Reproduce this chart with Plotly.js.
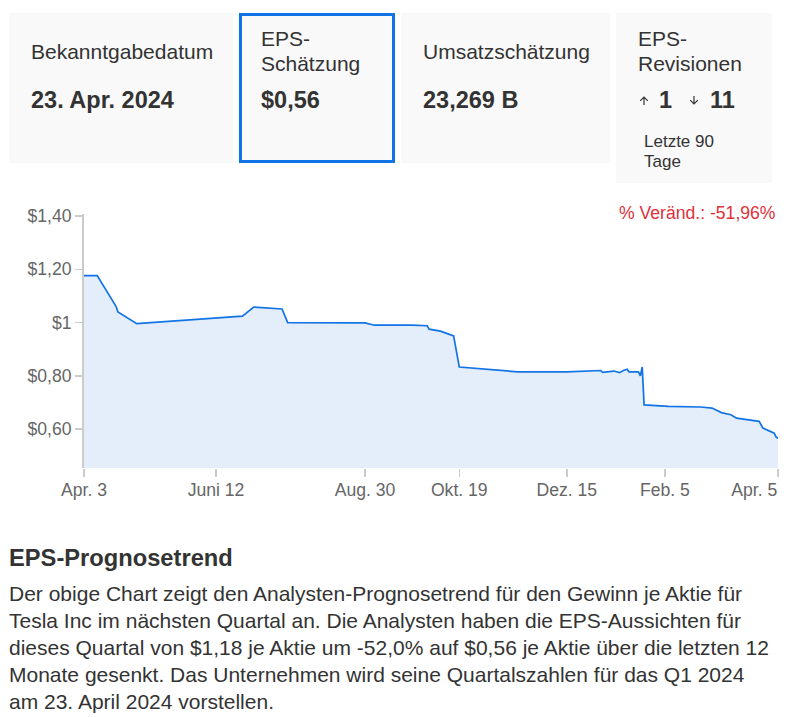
<!DOCTYPE html>
<html>
<head>
<meta charset="utf-8">
<script src="https://cdn.plot.ly/plotly-3.0.1.min.js"></script>
<style>
  html, body { margin: 0; padding: 0; background: #fff; width: 789px; height: 717px; overflow: hidden; }
  body { font-family: "Liberation Sans", Arial, sans-serif; color: #333; position: relative; }
  .card { position: absolute; background: #f9f9f9; box-sizing: border-box; }
  .card.sel { border: 3px solid #1273e6; }
  .lbl { position: absolute; left: 22px; top: 13px; height: 50px; display: flex; flex-direction: column; justify-content: center; font-size: 21px; line-height: 25px; color: #333; }
  .val { position: absolute; left: 22px; top: 73px; font-size: 23.5px; line-height: 28px; font-weight: bold; color: #333; white-space: nowrap; }
  .rev { position: absolute; top: 73px; height: 28px; font-size: 23.5px; line-height: 28px; font-weight: bold; color: #333; }
  .arr { position: absolute; top: 83px; width: 10px; height: 9px; }
  .sub { position: absolute; left: 28px; top: 119px; font-size: 17px; line-height: 20px; color: #333; }
  #chart { position: absolute; left: 0; top: 190px; width: 789px; height: 318px; }
  h2 { position: absolute; margin: 0; left: 9px; top: 544px; font-size: 23.7px; line-height: 28px; font-weight: bold; color: #333; }
  p.desc { position: absolute; margin: 0; left: 9px; top: 580px; width: 763px; font-size: 21px; line-height: 27px; color: #333; }
</style>
</head>
<body>
<div class="card" style="left:9px;top:13px;width:224px;height:150px;">
  <div class="lbl"><span>Bekanntgabedatum</span></div>
  <div class="val">23. Apr. 2024</div>
</div>
<div class="card sel" style="left:239px;top:13px;width:156px;height:150px;">
  <div class="lbl" style="left:19px;top:10px;"><span>EPS-</span><span>Schätzung</span></div>
  <div class="val" style="left:19px;top:70px;">$0,56</div>
</div>
<div class="card" style="left:401px;top:13px;width:209px;height:150px;">
  <div class="lbl"><span>Umsatzschätzung</span></div>
  <div class="val">23,269 B</div>
</div>
<div class="card" style="left:616px;top:13px;width:156px;height:170px;">
  <div class="lbl"><span>EPS-</span><span>Revisionen</span></div>
  <svg class="arr" style="left:23px;" viewBox="0 0 10 9"><path d="M5 9V1M1.2 4.8L5 1L8.8 4.8" fill="none" stroke="#333" stroke-width="1.2"/></svg>
  <span class="rev" style="left:43px;">1</span>
  <svg class="arr" style="left:73px;" viewBox="0 0 10 9"><path d="M5 0V8M1.2 4.2L5 8L8.8 4.2" fill="none" stroke="#333" stroke-width="1.2"/></svg>
  <span class="rev" style="left:94px;">11</span>
  <div class="sub">Letzte 90<br>Tage</div>
</div>
<div id="chart"></div>
<h2>EPS-Prognosetrend</h2>
<p class="desc">Der obige Chart zeigt den Analysten-Prognosetrend für den Gewinn je Aktie für Tesla Inc im nächsten Quartal an. Die Analysten haben die EPS-Aussichten für dieses Quartal von $1,18 je Aktie um -52,0% auf $0,56 je Aktie über die letzten 12 Monate gesenkt. Das Unternehmen wird seine Quartalszahlen für das Q1 2024 am 23. April 2024 vorstellen.</p>
<script>
const dates = [
  "2023-04-03","2023-04-10","2023-04-19","2023-04-20","2023-04-21","2023-05-01",
  "2023-06-26","2023-07-02","2023-07-17","2023-07-20","2023-08-30","2023-09-04",
  "2023-09-24","2023-10-02","2023-10-03","2023-10-09","2023-10-16","2023-10-19",
  "2023-11-19","2023-12-15","2024-01-02","2024-01-03","2024-01-09","2024-01-12",
  "2024-01-14","2024-01-16","2024-01-17","2024-01-22","2024-01-23","2024-01-24",
  "2024-01-25","2024-02-07","2024-02-24","2024-03-01","2024-03-06","2024-03-11",
  "2024-03-14","2024-03-26","2024-03-28","2024-04-01","2024-04-03","2024-04-04",
  "2024-04-05"
];
const eps = [
  1.176,1.176,1.072,1.060,1.040,0.996,
  1.024,1.058,1.051,1.000,0.999,0.990,
  0.990,0.988,0.975,0.968,0.950,0.833,
  0.815,0.815,0.820,0.813,0.818,0.812,
  0.820,0.825,0.815,0.815,0.800,0.833,
  0.691,0.685,0.683,0.679,0.662,0.654,
  0.641,0.629,0.604,0.591,0.585,0.570,
  0.566
];
const xTickVals = ["2023-04-03","2023-06-12","2023-08-30","2023-10-19","2023-12-15","2024-02-05","2024-04-05"];
const xTickText = ["Apr. 3","Juni 12","Aug. 30","Okt. 19","Dez. 15","Feb. 5","Apr. 5"];
const yTickVals = [0.6, 0.8, 1.0, 1.2, 1.4];
const yTickText = ["$0,60","$0,80","$1","$1,20","$1,40"];
const changeText = "% Veränd.: -51,96%";
const xRange = ["2023-04-03", "2024-04-05"];

const n = xTickVals.length;
const trace = {
  x: dates, y: eps, type: "scatter", mode: "lines",
  line: { color: "#1273e6", width: 1.7, shape: "linear" },
  fill: "tozeroy", fillcolor: "#e3eefa",
  hoverinfo: "skip"
};
// invisible carrier so the overlay axis (last date label) is drawn
const carrier = {
  x: dates, y: eps, type: "scatter", mode: "none", xaxis: "x2", yaxis: "y",
  hoverinfo: "skip", showlegend: false
};
const xCommon = {
  type: "date", range: xRange, tickmode: "array",
  showgrid: false, zeroline: false, showline: false,
  ticks: "outside", ticklen: 8, tickwidth: 1.5, tickcolor: "#ccc",
  tickfont: { size: 17.6, color: "#666" }, fixedrange: true
};
const layout = {
  width: 789, height: 318,
  margin: { l: 84, r: 11, t: 24, b: 40 },
  paper_bgcolor: "#fff", plot_bgcolor: "#fff",
  font: { family: "Liberation Sans, Arial, sans-serif", size: 17.6, color: "#666" },
  showlegend: false,
  xaxis: Object.assign({}, xCommon, {
    tickvals: xTickVals.slice(0, n - 1), ticktext: xTickText.slice(0, n - 1),
    ticklabelstandoff: -2
  }),
  // last date label is right-aligned at its tick, as on the source page
  xaxis2: Object.assign({}, xCommon, {
    overlaying: "x", anchor: "y", side: "bottom",
    tickvals: xTickVals.slice(n - 1), ticktext: xTickText.slice(n - 1),
    ticklabelposition: "outside left", ticklabelstandoff: 6
  }),
  yaxis: {
    range: [0.454, 1.4075],
    tickmode: "array", tickvals: yTickVals, ticktext: yTickText,
    showgrid: false, zeroline: false,
    showline: true, linecolor: "#ccc", linewidth: 2,
    ticks: "outside", ticklen: 7, tickwidth: 1.5, tickcolor: "#ccc",
    tickfont: { size: 17.6, color: "#666" }, fixedrange: true
  },
  annotations: [{
    text: changeText, xref: "paper", yref: "paper", x: 1, y: 1,
    xanchor: "right", yanchor: "bottom", yshift: -11, showarrow: false,
    font: { size: 17.6, color: "#e0303a" }
  }]
};
Plotly.newPlot("chart", [trace, carrier], layout, { displayModeBar: false, staticPlot: true });
</script>
</body>
</html>
